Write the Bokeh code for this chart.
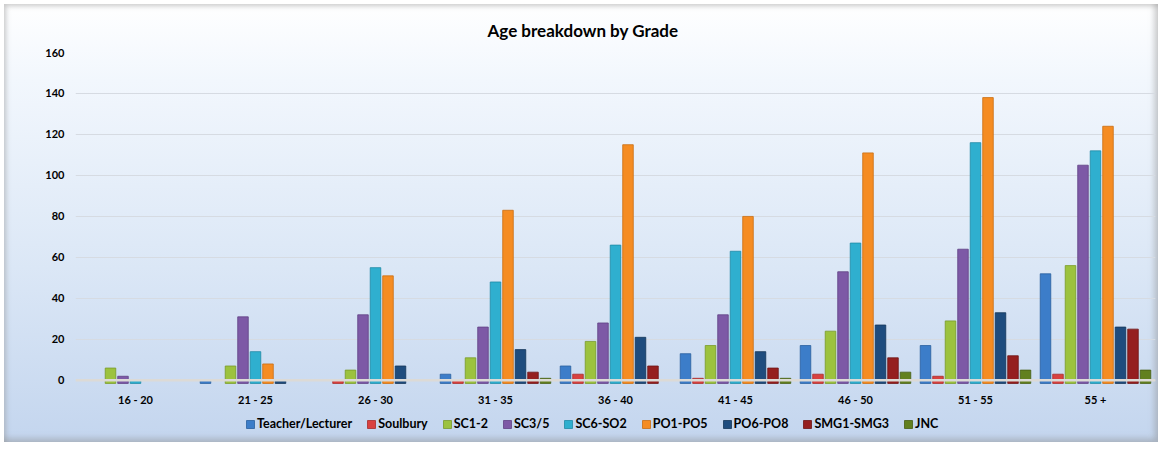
import math
from bokeh.plotting import figure
from bokeh.layouts import column
from bokeh.models import (ColumnDataSource, FactorRange, Span, Legend, LegendItem,
                          FixedTicker, Range1d)
from bokeh.transform import dodge
from bokeh.embed import file_html
from bokeh.resources import INLINE

NaN = float("nan")

age_groups = ["16 - 20", "21 - 25", "26 - 30", "31 - 35", "36 - 40",
              "41 - 45", "46 - 50", "51 - 55", "55 +"]

series_names = ["Teacher/Lecturer", "Soulbury", "SC1-2", "SC3/5", "SC6-SO2",
                "PO1-PO5", "PO6-PO8", "SMG1-SMG3", "JNC"]

teacher_lecturer = [NaN, 0, NaN, 3, 7, 13, 17, 17, 52]
soulbury         = [NaN, NaN, 0, 0, 3, 1, 3, 2, 3]
sc1_2            = [6, 7, 5, 11, 19, 17, 24, 29, 56]
sc3_5            = [2, 31, 32, 26, 28, 32, 53, 64, 105]
sc6_so2          = [0, 14, 55, 48, 66, 63, 67, 116, 112]
po1_po5          = [NaN, 8, 51, 83, 115, 80, 111, 138, 124]
po6_po8          = [NaN, 0, 7, 15, 21, 14, 27, 33, 26]
smg1_smg3        = [NaN, NaN, NaN, 4, 7, 6, 11, 12, 25]
jnc              = [NaN, NaN, NaN, 1, NaN, 1, 4, 5, 5]

y_ticks = [0, 20, 40, 60, 80, 100, 120, 140, 160]

all_series = [teacher_lecturer, soulbury, sc1_2, sc3_5, sc6_so2,
              po1_po5, po6_po8, smg1_smg3, jnc]

colors = ["#3c7dc9", "#d9413f", "#9cc23e", "#7d59a6", "#2fafcf",
          "#f58c22", "#1e4c7e", "#951f1f", "#62801f"]
edges = ["#2a5f9e", "#a82c2a", "#789a2a", "#5f4184", "#1f8aa6",
         "#c96d12", "#143659", "#6e1414", "#475e14"]

FONT = "Lato"
W = 1162

xr = FactorRange(factors=age_groups, range_padding=0)

# ---------------- main chart ----------------
p = figure(x_range=xr, y_range=Range1d(-3, 160),
           width=W, height=410,
           output_backend="svg", toolbar_location=None,
           min_border_left=75, min_border_right=7,
           min_border_top=52, min_border_bottom=24)

p.background_fill_alpha = 0
p.border_fill_alpha = 0
p.outline_line_color = None

p.title.text = "Age breakdown by Grade"
p.title.align = "left"
p.title.text_font = FONT
p.title.text_font_size = "17px"
p.title.text_font_style = "bold"
p.title.text_color = "#000000"
p.title.offset = 412
p.title.standoff = 23

# ---------------- legend strip (shares the x scale; its y window lies above the data) ----------------
lp = figure(width=W, height=36, x_range=xr, y_range=Range1d(1000, 1001),
            output_backend="svg", toolbar_location=None,
            x_axis_location=None, y_axis_location=None,
            min_border_left=75, min_border_right=7, min_border_top=0, min_border_bottom=0)
lp.background_fill_alpha = 0
lp.border_fill_alpha = 0
lp.outline_line_color = None
lp.grid.visible = False

step = 12.5 / 120.0
bar_w = 0.088
items = []
for i, (name, vals) in enumerate(zip(series_names, all_series)):
    xs = [g for g, v in zip(age_groups, vals) if not math.isnan(v)]
    ys = [v for v in vals if not math.isnan(v)]
    src = ColumnDataSource(dict(x=xs, top=ys))
    kw = dict(x=dodge("x", (i - 4) * step, range=xr), top="top", bottom=-1.5,
              width=bar_w, source=src, fill_color=colors[i],
              line_color=edges[i], line_width=0.8)
    p.vbar(**kw)
    r = lp.vbar(**kw)
    items.append(LegendItem(label=name, renderers=[r]))

p.add_layout(Span(location=0, dimension="width", line_color="#dcdad6", line_width=2.5))

p.ygrid.grid_line_color = "#d6dbe2"
p.ygrid.ticker = FixedTicker(ticks=y_ticks)
p.xgrid.grid_line_color = None

p.yaxis.ticker = FixedTicker(ticks=y_ticks)
for ax in (p.xaxis[0], p.yaxis[0]):
    ax.axis_line_color = None
    ax.major_tick_line_color = None
    ax.minor_tick_line_color = None
    ax.major_tick_out = 0
    ax.major_tick_in = 0
    ax.minor_tick_out = 0
    ax.major_label_text_font = FONT
    ax.major_label_text_font_style = "bold"
    ax.major_label_text_font_size = "11px"
    ax.major_label_text_color = "#000000"
p.yaxis.major_label_standoff = 11
p.xaxis.major_label_standoff = 6

legend = Legend(items=items, orientation="horizontal", location=(170, 15),
                glyph_width=10, glyph_height=10, label_height=10,
                label_standoff=2, spacing=14,
                padding=6, margin=0, background_fill_alpha=0, border_line_color=None,
                label_text_font=FONT, label_text_font_style="bold",
                label_text_line_height=0.8,
                label_text_font_size="12.5px", label_text_color="#000000")
lp.add_layout(legend, "center")

layout = column(p, lp, spacing=0, styles={
    "background-image": "linear-gradient(to bottom, #ffffff 0%, #f2f7fd 18%, #dbe7f6 60%, #c3d5ee 100%)",
    "box-shadow": "inset 0 0 0 4px #ffffff, inset 7px 7px 5px -1px rgba(150,150,150,0.5), inset -8px -8px 6px -1px rgba(140,140,140,0.5)",
})

open("out.html", "w").write(file_html(layout, INLINE))
